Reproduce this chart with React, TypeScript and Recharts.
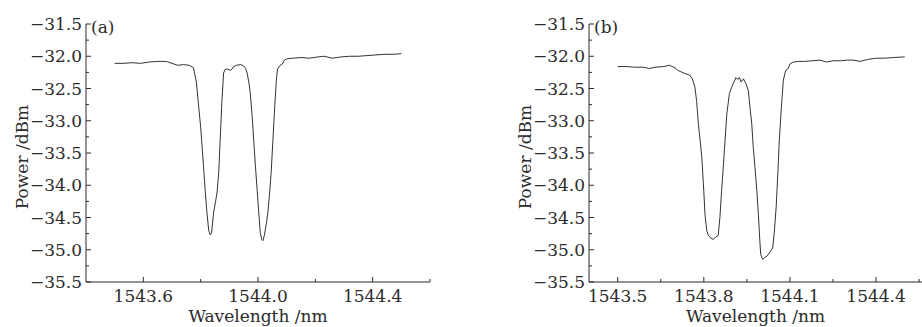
import React from 'react';
import { LineChart, Line, XAxis, YAxis } from 'recharts';

// panel (a)
const waveA = [
  1543.50, 1543.53, 1543.56, 1543.59, 1543.62, 1543.65, 1543.68, 1543.70, 1543.72, 1543.74,
  1543.76, 1543.775, 1543.785, 1543.792, 1543.80, 1543.81, 1543.816, 1543.822, 1543.828, 1543.833,
  1543.838, 1543.845, 1543.852, 1543.857, 1543.863, 1543.868, 1543.874, 1543.88, 1543.886, 1543.895,
  1543.903, 1543.909, 1543.915, 1543.925, 1543.94, 1543.95, 1543.957, 1543.962, 1543.968, 1543.973,
  1543.98, 1543.985, 1543.991, 1543.997, 1544.003, 1544.008, 1544.013, 1544.017, 1544.022, 1544.029,
  1544.035, 1544.04, 1544.046, 1544.052, 1544.058, 1544.064, 1544.068, 1544.075, 1544.085, 1544.092,
  1544.10, 1544.12, 1544.15, 1544.18, 1544.21, 1544.23, 1544.26, 1544.29, 1544.32, 1544.35,
  1544.38, 1544.41, 1544.44, 1544.47, 1544.50,
];
const powerA = [
  -32.11, -32.11, -32.10, -32.11, -32.09, -32.08, -32.08, -32.11, -32.14, -32.13,
  -32.14, -32.18, -32.40, -32.73, -33.10, -33.71, -34.10, -34.43, -34.70, -34.77,
  -34.74, -34.43, -34.25, -34.12, -33.80, -33.30, -32.70, -32.26, -32.20, -32.20,
  -32.22, -32.20, -32.16, -32.14, -32.13, -32.15, -32.19, -32.26, -32.40, -32.57,
  -32.95, -33.30, -33.70, -34.07, -34.45, -34.74, -34.84, -34.86, -34.78, -34.60,
  -34.40, -34.15, -33.80, -33.30, -32.80, -32.37, -32.20, -32.15, -32.12, -32.06,
  -32.04, -32.03, -32.02, -32.03, -32.01, -32.00, -32.03, -32.01, -32.00, -32.00,
  -31.99, -31.98, -31.97, -31.97, -31.96,
];

// panel (b)
const waveB = [
  1543.50, 1543.53, 1543.56, 1543.59, 1543.61, 1543.63, 1543.66, 1543.68, 1543.70, 1543.71,
  1543.72, 1543.735, 1543.75, 1543.76, 1543.769, 1543.775, 1543.781, 1543.787, 1543.793, 1543.80,
  1543.804, 1543.81, 1543.816, 1543.825, 1543.833, 1543.842, 1543.85, 1543.856, 1543.862, 1543.868,
  1543.874, 1543.88, 1543.889, 1543.897, 1543.905, 1543.912, 1543.918, 1543.924, 1543.93, 1543.938,
  1543.946, 1543.955, 1543.961, 1543.967, 1543.972, 1543.978, 1543.985, 1543.99, 1543.995, 1543.998,
  1544.005, 1544.012, 1544.02, 1544.028, 1544.04, 1544.046, 1544.052, 1544.058, 1544.063, 1544.07,
  1544.077, 1544.085, 1544.094, 1544.10, 1544.112, 1544.13, 1544.15, 1544.18, 1544.205, 1544.228,
  1544.25, 1544.275, 1544.30, 1544.32, 1544.344, 1544.37, 1544.40, 1544.43, 1544.46, 1544.50,
];
const powerB = [
  -32.16, -32.16, -32.17, -32.17, -32.19, -32.17, -32.16, -32.14, -32.18, -32.22,
  -32.24, -32.27, -32.29, -32.35, -32.48, -32.70, -33.05, -33.30, -33.57, -34.10,
  -34.45, -34.70, -34.78, -34.82, -34.84, -34.80, -34.78, -34.50, -34.08, -33.70,
  -33.30, -32.90, -32.58, -32.48, -32.40, -32.33, -32.36, -32.33, -32.40, -32.35,
  -32.42, -32.53, -32.80, -33.05, -33.40, -33.72, -34.10, -34.45, -34.85, -35.07,
  -35.15, -35.12, -35.10, -35.05, -34.97, -34.70, -34.34, -33.80, -33.30, -32.80,
  -32.37, -32.22, -32.19, -32.12, -32.09, -32.08, -32.08, -32.07, -32.06, -32.09,
  -32.07, -32.07, -32.06, -32.06, -32.08, -32.05, -32.03, -32.03, -32.02, -32.01,
];

// axes
const powerTicks = [
  -35.5, -35.25, -35.0, -34.75, -34.5, -34.25, -34.0, -33.75, -33.5, -33.25,
  -33.0, -32.75, -32.5, -32.25, -32.0, -31.75, -31.5,
];
const powerLabels = [-35.5, -35.0, -34.5, -34.0, -33.5, -33.0, -32.5, -32.0, -31.5];
const waveTicksA = [1543.6, 1543.8, 1544.0, 1544.2, 1544.4, 1544.6];
const waveLabelsA = [1543.6, 1544.0, 1544.4];
const waveTicksB = [1543.5, 1543.65, 1543.8, 1543.95, 1544.1, 1544.25, 1544.4, 1544.55];
const waveLabelsB = [1543.5, 1543.8, 1544.1, 1544.4];

const FONT = '"DejaVu Serif", serif';
const FS = 17;
const INK = '#2b2b2b';
const H = 327;
const TOP = 24;
const XAXIS_H = 45;

const fmt = (v: number) => v.toFixed(1).replace('-', '\u2212');
const has = (list: number[], v: number) => list.some((t) => Math.abs(t - v) < 1e-6);

function makeYTick(axisX: number) {
  return (props: any) => {
    const { y, payload } = props;
    const major = has(powerLabels, payload.value);
    return (
      <g>
        <line x1={axisX} x2={axisX + (major ? 5 : 3)} y1={y} y2={y} stroke={INK} strokeWidth={1} />
        {major && (
          <text x={axisX - 4} y={y} dy="0.36em" textAnchor="end" fontFamily={FONT} fontSize={FS} fill={INK}>
            {fmt(payload.value)}
          </text>
        )}
      </g>
    );
  };
}

function makeXTick(labels: number[]) {
  return (props: any) => {
    const { x, payload } = props;
    const axisY = H - XAXIS_H;
    const major = has(labels, payload.value);
    return (
      <g>
        <line x1={x} x2={x} y1={axisY} y2={axisY - (major ? 5 : 3)} stroke={INK} strokeWidth={1} />
        {major && (
          <text x={x} y={axisY + 20} textAnchor="middle" fontFamily={FONT} fontSize={FS} fill={INK}>
            {payload.value.toFixed(1)}
          </text>
        )}
      </g>
    );
  };
}

function YTitle({ viewBox, value }: any) {
  const vb = viewBox ?? { x: 0, y: TOP, width: 86, height: H - TOP - XAXIS_H };
  const x = vb.x + vb.width - 58;
  const y = vb.y + vb.height / 2 + 4;
  return (
    <text x={x} y={y} transform={`rotate(-90 ${x} ${y})`} textAnchor="middle" fontFamily={FONT} fontSize={FS} fill={INK}>
      {value}
    </text>
  );
}

function XTitle({ viewBox, value }: any) {
  const vb = viewBox ?? { x: 86, y: H - XAXIS_H, width: 344, height: XAXIS_H };
  return (
    <text x={vb.x + vb.width / 2} y={vb.y + 40} textAnchor="middle" fontFamily={FONT} fontSize={FS} fill={INK}>
      {value}
    </text>
  );
}

function Panel({
  tag, waves, powers, ticks, labels, domain, width, yWidth, right,
}: {
  tag: string;
  waves: number[];
  powers: number[];
  ticks: number[];
  labels: number[];
  domain: [number, number];
  width: number;
  yWidth: number;
  right: number;
}) {
  const data = waves.map((w, i) => ({ w, p: powers[i] }));
  return (
    <div style={{ position: 'relative', width, height: H }}>
      <LineChart width={width} height={H} data={data} margin={{ top: TOP, right, bottom: 0, left: 0 }}>
        <XAxis
          dataKey="w" type="number" domain={domain} ticks={ticks} interval={0}
          allowDataOverflow height={XAXIS_H}
          axisLine={{ stroke: INK, strokeWidth: 1 }} tickLine={false}
          tick={makeXTick(labels)}
          label={<XTitle value="Wavelength /nm" />}
        />
        <YAxis
          type="number" domain={[-35.5, -31.5]} ticks={powerTicks} interval={0}
          allowDataOverflow width={yWidth}
          axisLine={{ stroke: INK, strokeWidth: 1 }} tickLine={false}
          tick={makeYTick(yWidth)}
          label={<YTitle value="Power /dBm" />}
        />
        <Line
          type="linear" dataKey="p" stroke="#333" strokeWidth={1}
          dot={false} activeDot={false} isAnimationActive={false}
        />
      </LineChart>
      <svg width={width} height={H} style={{ position: 'absolute', left: 0, top: 0, pointerEvents: 'none' }}>
        <text x={yWidth + 5} y={33} fontFamily={FONT} fontSize={FS} fill={INK}>{tag}</text>
      </svg>
    </div>
  );
}

export default function App() {
  return (
    <div style={{ position: 'absolute', left: 0, top: 0, width: 922, height: H, background: '#fff', display: 'flex' }}>
      <Panel
        tag="(a)" waves={waveA} powers={powerA} ticks={waveTicksA} labels={waveLabelsA}
        domain={[1543.4, 1544.6]} width={460} yWidth={86} right={30}
      />
      <Panel
        tag="(b)" waves={waveB} powers={powerB} ticks={waveTicksB} labels={waveLabelsB}
        domain={[1543.4, 1544.56]} width={462} yWidth={129} right={0}
      />
    </div>
  );
}
